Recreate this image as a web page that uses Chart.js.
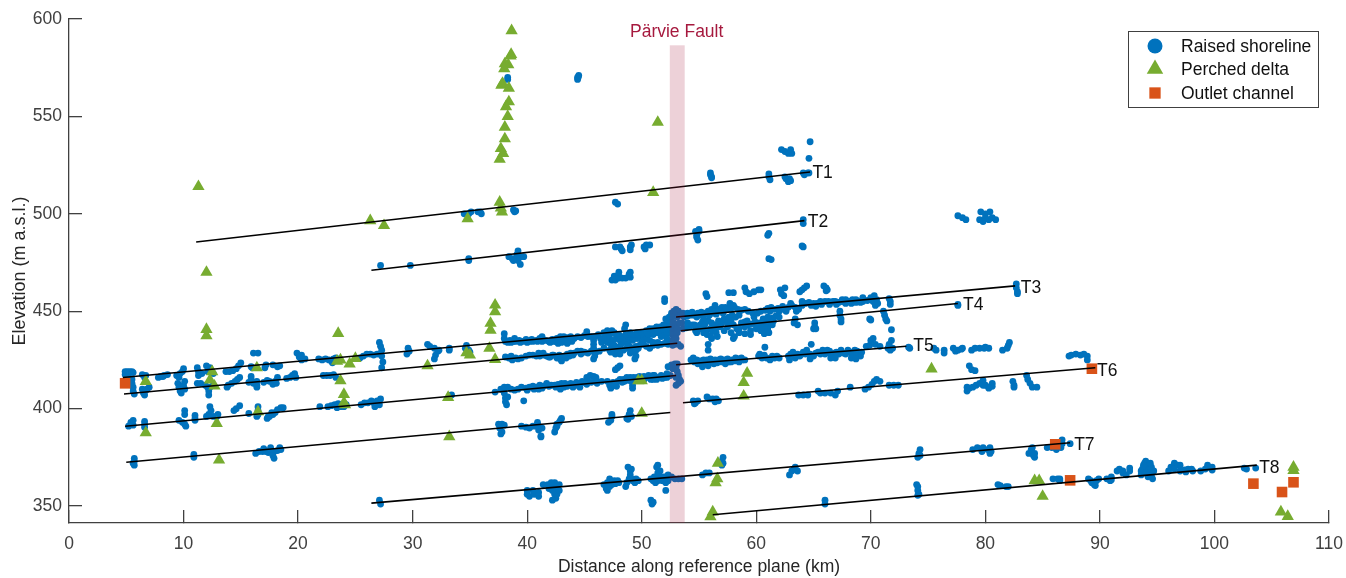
<!DOCTYPE html>
<html>
<head>
<meta charset="utf-8">
<title>Raised shorelines</title>
<script src="https://cdn.jsdelivr.net/npm/chart.js@4/dist/chart.umd.min.js"></script>
<style>
  html, body { margin: 0; background: #fff; }
  canvas { display: block; }
</style>
</head>
<body>
<canvas id="myChart" width="1346" height="578"></canvas>
<script>
const xTicks = [0, 10, 20, 30, 40, 50, 60, 70, 80, 90, 100, 110];
const yTicks = [350, 400, 450, 500, 550, 600];

// raised shorelines, [km, m a.s.l.]
const shoreHigh = [[38.3,570],[38.3,569],[44.4,569],[44.45,570],[44.5,571],[44.4,570],[34.5,500],[34.9,500],[35.1,501],[35.7,501],[36,500],[35.9,501],[38.8,502],[38.9,501],[39,501.5],[47.7,506],[47.9,505],
  [56,520],[56,521],[56.1,518.5],[56.1,519],[61.1,520.5],[61.1,519],[61.2,517.5],[62.6,518],[62.9,518],[62.8,516.5],[63,517],[62.5,519],[64.1,521],[64.2,520],[64.5,521],[64.6,521],
  [62.2,533],[62.5,532],[62.8,531],[63.1,531],[63,533],[64.7,537],[64.6,528.5],
  [34.9,477],[34.9,476],[38.4,478],[38.7,477],[39,477],[39.1,479],[39.2,481],[39.4,478],[39.7,478],[39.2,476],[38.8,476],[39.4,474],[27.2,473.5],[29.8,473.5],
  [47.7,483],[48.1,483],[48.3,481],[48.2,482],[49,483],[49,481.5],[49.1,484],[50.2,483],[50.4,484],[50.7,484],[50.3,482],
  [54.7,491],[55,491],[55,492],[54.8,489],[54.9,486.5],[54.8,488],[61.1,490],[61,489],[64.1,497],[64.1,495],[64.1,483],[64,483.5],[61.1,477],[61.3,476.5],
  [47.4,466],[47.7,466],[48,467],[48.3,467],[48.6,467],[48.9,469],[47.6,468],[49,467.5],[48,468],[49,470],[48,470],
  [77.6,499],[78,498],[78.3,497],[79.5,497],[79.8,496],[80,500],[80.4,501],[80.6,498],[80.9,497],[80.3,497],[79.6,501],[80,498]];

const shoreBand3 = [[4.9,419],[5.1,419],[5.3,419],[5.5,419],[5.6,418.5],[4.9,417.5],[5.2,417.5],[5.5,415],[5.5,413],[5.6,411],[5.6,409],[5.7,407.5],[6.4,417.5],[6.7,417],[6.6,416],
  [7.8,416],[8,416.5],[8.3,417],[8.6,417.5],[8.2,416.5],[9.4,417],[9.6,416],[9.9,419],[10,420.5],[9.7,418],[11.2,421],[11.3,419],[11.3,417],[11.6,418],[12,422],[12.3,421],[12.1,419],[12.4,419.5],[12.6,418],
  [13.7,419],[14,419],[14.3,419.5],[14.6,420.5],[14.8,422],[15,423.5],[15.9,421.5],[16,421],[16.1,428.5],[16.5,428.5],[17.2,422.5],[17.1,421],[17.8,422.5],[18.2,421.5],[18.4,422],
  [19.9,428.5],[20.1,426.5],[20.3,425],[20.6,425.5],[20.3,427.5],[21.8,425.5],[22.1,425],[22.4,425.5],[22.7,425],[22.9,424.5],[23.1,425.5],[23.3,426],[23,423.5],
  [25.4,426],[25.7,427],[26,428],[26.3,428],[26.6,427.5],[26.9,428],[27.1,434],[27.2,432],[27.3,430],[27.3,427],[27.4,424],[27.3,421],
  [29.6,431],[29.7,429.5],[29.5,428],[31.3,433],[31.5,432],[31.9,431],[32.2,429.5],[32,427.5],[31.9,425.5],[32.3,430],[33.2,431],[33.2,430],[34.7,432.5],[34.6,431],[34.9,430],[35,429],
  [38,438.5],[38,436],[38.1,434.5],[38.3,434],[38.5,435],[38.8,434.5],[38.9,436],[39.3,435],[39.6,434.5],[39.9,435.5],[40.2,434.5],[40.5,434.5],[40.8,435],[41.1,436],[41.3,437],
  [42,434],[42.3,434.5],[42.6,436],[42.9,437],[43.2,437],[43.5,436.5],[43.7,435.5],[43.3,434.5],[43,434],[43.5,433.5],[42.7,433.5],[43.8,437],
  [45.2,439.5],[45.2,438],[45.3,437],[45.6,437],[45.9,437],[45.8,435],[45.8,433],[45.8,431],[46,429],[45.9,427],[45.8,425.5],
  [46.7,439],[47,440],[47.4,440],[47.6,439],[46.9,437],[47.2,436],[47.5,435],[47,434],[47.3,433],[47.5,431],[47.6,432.5],
  [48,438],[48.3,437],[48.6,438],[48.6,443],[48.5,441],[49,439],[49.3,438],[49.6,439],[50,439],[48.2,433],[48.5,434],[48.8,433],[49.2,435],[49.5,432],[49.7,431],[49.5,430],
  [50.4,440],[50.7,441],[51,441],[51.3,442],[51.6,442],[51.9,443],[51.9,441],[50.6,438],[51,438],[51.4,439],[51.7,437],[50.7,435],[51,434],[51.4,434],[52,456.5],[52,455],
  [52.4,447],[52.6,449],[52.8,450],[53,451],[53.2,450],[53.3,449],[52.5,446],[52.7,447],[52.9,448],[53.1,447],[52.5,444],[52.8,444],[53,443],[53.3,444],[52.5,441],[52.8,441],[53.1,441],[52.6,438.5],[52.9,438.5],[53.1,439],[52.8,436],[53,436],[52.9,433],[53.2,433],[53.4,432],[52.6,435],[52.7,432.5],
  [53.4,448],[53.7,447],[54,447.5],[54.3,448],[54.6,448],[54.9,449],[55.2,449.5],[55.5,449],[55.8,450],[56.1,451],[56.4,450],[56.7,451],[57,452],[57.3,452],[56.4,453],[57.1,449],[55.6,459],[55.7,457.5],[57.6,459.5],[58,459.5],
  [59,462],[59.1,460],[59.4,459],[59.8,460],[60.2,461],[60.4,461],[57.7,454],[58,453],[61,451.5],[61.3,452],[61.6,451],[62,450],[62.4,451],[62.8,452],[63.1,453],[63,454],[62.1,461],[62.2,459],[62.4,458],[62.5,462],
  [63.8,460],[64,461],[64.2,462],[64.4,463],[65.9,463],[66.1,462],[66.1,460.5],[66.2,461],[63.7,451],[64,453],[64.3,454],[64.6,454.5],[65,454],[65.3,454],[65.6,455],[66,455],[66.3,455],[66.7,455],[64,455],
  [66.9,455],[67.2,454.5],[67.5,455],[67.8,454],[68.1,455],[68.4,456],[68.7,456],[69,455],[69.3,457],[69.1,454.5],[70,457],[70.3,458],[70.5,456],[70.2,455],[70.4,453],[70.6,454],[71.6,456.5],[71.7,455],[71.7,453.5],
  [82.7,464],[82.7,462],[82.8,460],[82.8,459]];

const shoreBand3Extra = [[38.6,434],[39,434.5],[39.4,434],[40,434],[40.4,435.5],[40.9,434.5],[41.3,434.5],[41.6,435],[41.9,434.5],[42.2,435.5],[42.5,434.5],[42.8,435],[43.1,435.5],[43.4,435],[43.9,434.5],[44.1,436],[44.4,437],[44.7,436.5],[45,437.5],
  [46.2,438],[46.4,436],[46.5,434],[46.7,436],[46.9,435],[47.2,438],[47.8,437],[48,435.5],[48.3,435],[48.6,436],[48.9,436],[49.3,436],[49.6,436],[49.9,437],[50.2,437],[50.2,435],[50.4,436],[50,434],[51.7,439.5],[51.9,439],[52.1,442],[52.2,444],[52.1,446],[52.3,445],[52.3,440],[52.1,438],[52.2,436],[51.6,440],[51.2,440],[50.9,439.5],[50.5,438.5],[52.2,434.5],
  [53.6,449],[54,449],[54.4,449.5],[54.8,447],[55.1,448],[55.4,447],[55.9,448],[56.2,449],[56.5,448.5],[56.9,450],[57.2,450.5],[57.5,451],[57.8,451.5],[58.1,452],[58.4,451],[58.7,450.5],[59,451],[59.3,450],[59.7,449],[60.1,449],[60.4,450],[60.8,450.5],[61.2,450],[61.9,451.5],[62.3,452.5],[62.6,450],[63.4,452],[63.5,450],[64.8,453],[65.2,452.5],[65.7,453.5],[66.4,453.5],[67,453.5],[67.5,456],[67.8,456],[68.3,454],[68.7,454.5],[69.3,455],[69.7,455.5],[70.1,456]];

const shoreBand4 = [[9.5,413],[9.6,411],[9.7,409],[10,412],[10.1,414],[10.1,410],[9.8,408],[11.2,413],[11.5,413],[11.9,412],[12.1,411],[12.2,409],[12.2,407],[12.3,411],[12.6,412],
  [13.8,411],[13.9,412],[14.2,413],[14.5,414],[14.7,415],[14.9,416],[15.7,413.5],[15.9,415],[15.9,416.5],[16.1,413],[16.4,414],[16.4,412],[16.4,411],[17,413.5],[17.3,414.5],[17.5,414],
  [17.8,412.5],[18,414],[18.2,416],[18.1,413],[19,415.5],[19.3,416],[19.5,417],[19.7,418],[19.8,416],[22.2,417],[22.5,417],[22.8,417],[23.1,417.5],[23.3,416],[6.4,410],[6.5,408],[6.6,407],[6.8,410],[7,411],[6.7,409.5],
  [38.1,426.5],[38.4,426],[38.7,425],[39,426],[39.2,425.5],[38.6,427],[39.9,427],[40.2,427.5],[40.5,427.5],[40.8,427],[41.1,427],[41.4,427.5],[41.7,427],[41,428.5],[41.4,428.5],
  [42,426.5],[42.3,427.5],[42.6,426],[42.9,425.5],[43.2,427],[43.5,428],[43.8,428.5],[44.1,428.5],[44.4,429.5],[44.7,429.5],[45,429],[43,424.5],[42.8,427.5],[47.6,430],[47.9,429.5],[48.1,428],[49,428.5],[49.5,427],[49.4,425.5],[49.6,431],[49.2,429.5],
  [53.5,444],[54,444],[54.4,443],[54.8,442],[55.1,443],[55.3,441],[55.5,443],[55.8,445],[56.1,444],[56.4,443],[56.7,445],[55.4,439],[55.7,438],[56,437.5],[56.2,440],[56.5,439],[56.6,437],[54.7,440],[54.8,439],[56.1,436],
  [57.6,447],[57.9,448],[58.2,447],[58.5,448],[57.8,445],[58,443],[58.3,441],[57.8,439],[58,436],[58.1,437],[58.5,441],[59,442],[59.5,440],[60,443],[60.5,442],[60.9,443],[61.2,444],[61.5,445],[61.4,443],[60,441],[60.8,441],[61.1,439],[61,441],[59.2,445],[59.8,447],[60.6,446],[61,447],
  [63.4,446],[63.3,444],[63.6,443],[65.1,444],[65.1,442],[65,441],[65.2,441],[67.3,450],[67.3,448],[67.4,446],[67.4,444.5],[69.9,446],[70,445.5],[71.1,450],[71.2,448],[71.3,446],[71.4,445],[71.8,440.5],[77.6,453.5],[77.6,453]];

const shoreBand4Extra = [[39.5,426],[41.9,426.5],[42.2,427.5],[43.4,426],[43.7,427],[44,427.5],[44.7,428],[45.3,428.5],[45.6,429.5],[46.3,429.5],[46.7,431],[47.2,430],[47.3,429],[48.4,430],[48.7,431],[49,431.5],[50.4,432],[50.7,431],[51,432.5],[51.4,432.5],[51.7,433],[52,433.5],[52.3,433],[49.8,432.5],[50.1,433],[47.9,431.5],[47.7,428],
  [53.6,441],[53.9,441.5],[54.2,442],[54.6,443],[55,441],[55.3,444.5],[55.6,440],[56,441],[56.4,441],[56.8,442],[57,444],[57.2,446],[57.5,444.5],[57.5,442],[57.2,440],[58.7,444],[59,444.5],[59.3,443],[59.6,443.5],[59.9,444.5],[60.3,444],[60.6,444],[61,445],[61.4,446.5],[61.7,447.5],[62,447],[59.5,438],[58.5,439],[59,438.5],[60.4,440],[60.7,438.5]];

const shoreBand5 = [[5.2,391],[5.4,393],[5.6,394],[5.6,391.5],[6.6,393.5],[6.6,392],[6.6,390.5],[9.6,394],[9.9,393],[10.1,392],[10.1,397],[10.1,399],[10.2,391],[11,396.5],[11,395],[11,394],
  [12,396],[12.2,397],[12.4,399],[12.3,401],[12.6,396],[12.9,396],[13,397],[14.4,399],[14.6,400],[14.9,401.5],[15.7,397.5],[16.5,401],[16.5,399],[16.5,397],[16.4,396],[17.3,395],[17.5,396],[17.8,397],[17.7,398],[17.4,396],
  [18,398],[18.2,399.5],[18.5,400.5],[18.7,400.5],[21.9,401],[22.6,401],[22.9,401.5],[23.2,402],[23.5,402.5],[23.7,401],[23.4,400.5],[24.2,402],[24,401],[25.5,402],[25.8,403],[26.1,403],[26.4,404],[26.6,403],[26.9,404],[27.1,402],[26.7,401],[27.2,405],
  [33.4,407],[37.2,408.5],[37.7,410],[38,411],[38.3,411],[38.6,410],[38.9,409.5],[39.2,410],[39.5,411],[38,408],[38.1,405.5],[38.1,403.5],[38.2,402],[38.3,406],[39.7,404],
  [39.9,410.5],[40.2,411],[40.5,411.5],[40.8,411],[41.1,412],[41.4,411.5],[41.7,413],[41,410],[40,409.5],[42.1,412],[42.4,412],[42.7,412.5],[43,413],[43.3,413],[43.2,411],[42.9,410],[43.5,411.5],[43.8,413],[44.1,412.5],[44.4,412],[44.7,413],[45,413.5],[45.3,414],
  [45.2,416],[45.5,417],[45.8,416.5],[46,415],[46.1,413],[46,416],[47.2,412],[47.3,410.5],[47.6,412],[47.9,414],[48.1,415],[47.8,411.5],[47.7,420],[48.1,422],[47.9,421],[48.4,415],[48.7,416],[49,416],[49.1,414],[49.2,412],[49.2,410.5],[49.3,416],[48.5,414],
  [49.6,416],[49.9,415],[50.2,415],[50.5,416],[50.8,415],[51.1,417],[51.4,416],[51.7,417],[52,416],[51,415],[52.3,421.5],[52.6,422.5],[52.9,423],[53.1,423],[52.7,420.5],[53,421],[53.1,419],[53.2,417],[53.3,415],[53.2,413],[53,412],[53.4,414],[53,416],
  [54.5,426],[54.6,424],[54.9,423],[55.2,423],[55.5,424],[55.8,422],[56.1,424],[56.4,425],[56.7,425],[57,424],[57.3,423],[57.6,424],[57.9,425],[58.2,426],[58.5,424],[58.8,425],[59,425],[55.3,421.5],[56.3,423],[55.8,433],[55.8,430],
  [60.2,427],[60.5,426],[60.9,426],[61.2,425],[61.6,426],[62,426],[60.75,431.5],[62.8,427],[62.9,425],[63.2,429],[63.4,426],[63.8,427],[64.1,429],[64.4,430],[64.7,428],[65,427],[64.7,425.5],[64.8,433],
  [65.4,429],[65.8,430],[66.2,430],[66.5,428],[66.9,426],[67,429],[67.4,430],[67.8,428],[68.2,429],[68.6,430],[68.9,428],[69.1,427],[69.2,429],[68.3,426],[68.7,425.5],[66.5,426],
  [69.6,432],[69.9,432.5],[70,435],[70.2,436],[70.4,433],[70.8,432],[71.6,433],[71.8,435],[71.9,431],[71.7,430],[71.5,431],[73.3,431.5],[73.4,431],[75.5,431],[75.7,430],[76.4,430],[76.4,428.5],
  [77.2,431],[77.6,430],[77.9,430.5],[78,431],[77.4,429.5],[78.8,430],[79.1,431],[79.5,431],[79.9,431],[80.3,431],[80,431.5],[81.5,430],[81.9,431],[82,432.5],[82.1,434]];

const shoreBand5Extra = [[37.9,409.5],[40.6,410],[41.3,410.5],[41.9,411.5],[42.5,411],[43.1,412],[43.7,412.5],[44.3,413.5],[44.8,414],[45.2,412.5],[45.6,413.5],[46.5,414],[47,414],[47.5,413.5],[48.3,413.5],[48.9,414.5],[49.4,414.5],[49.8,416.5],[50.2,416.5],[50.6,417],[51,417],[51.3,415],[51.8,415.5],[52.2,416],[52.5,417],[52.2,418],[44,411],[44.6,411],
  [54.8,425],[55.1,424.5],[55.4,425],[55.7,425],[56,425.5],[56.6,423.5],[56.9,425.5],[57.2,425],[57.5,425.5],[57.8,424],[58.1,424.5],[58.4,425.5],[58.7,426],[54.3,425],
  [65.6,428],[66,428],[66.4,429.5],[66.8,428.5],[67.2,428],[67.6,428.5],[68,430],[68.4,428],[68.8,429.5],[68.5,427],[65.2,428.5],[60.3,428],[60.7,427.5],[61.4,427],[61.8,427],[63,428],[63.6,428],[64,428],[64.3,428]];

const shoreBand6 = [[5.7,374.5],[5.7,373],[5.6,372],[5.7,371],[10.9,376.5],[10.9,375],[16.3,377],[16.6,378],[16.9,378],[17.2,378],[17.4,377.5],[17.6,379],[17.9,378],[18.2,378.5],[18.4,380],[18.5,379],[17.8,376],[17.9,374.5],[17.6,380],[17,379.5],
  [37.5,392],[37.8,392],[38,391.5],[37.6,390],[37.8,388],[37.7,387],[39.5,391],[39.9,390.5],[40.2,390],[40.5,391],[40.8,391],[40.9,393],[41,391],[41,389],[41.3,390],[41.2,385.5],[41.2,386],
  [42.4,388],[42.5,390],[42.6,392],[42.8,393],[42.9,394],[43,395],[42.6,391],[47.1,393],[47.3,394],[47.4,396],[47.4,397],[48.7,395],[48.9,397],[49,399],[48.8,394.5],[49.1,396],
  [54.5,404],[54.6,402.5],[54.7,403],[54.9,404],[55.7,406],[55.9,405],[56.2,405],[56.5,405],[56.7,404],[56.4,403.5],[63.7,407],[64.1,407],[64.5,407],[65.4,409],[65.6,408],[66,408],[66.5,408],[66.9,407],[67.1,409],[68.2,411],
  [69.5,410],[69.8,411],[70.1,412.5],[70.3,414],[70.5,415],[70.8,414],[71.6,412],[72,412],[72.4,412],[78.6,422],[78.8,420],[79.1,419.5],[78.4,409],[78.4,411],[78.6,410.5],[78.9,411],[79.2,412],[79.5,413],[79.8,414.5],[80,412],[80.3,411],[80.6,411.5],[80.6,413],[80.3,410.5],[79.8,412],
  [82.4,414],[82.5,412],[82.5,411],[83.6,417],[83.7,415],[83.9,413],[84.1,411],[84.5,411],[87.3,427],[87.5,427.5],[87.9,428],[88.3,427.5],[88.6,428],[88.9,427],[88.9,425]];

const shoreBand7 = [[27.1,353],[27.2,351],[40,358],[40,356],[40.2,355],[40.6,356],[41,355],[41,357],[40.5,358],[41.4,361],[41.8,361],[42.1,360],[42.3,358],[42.4,356],[42.5,354],[42.2,353],[42.6,356],[42.8,358],[42.6,360],[42.4,362],[42.1,362],[42.8,361],
  [46.7,361],[46.9,359],[47,358],[47.2,360],[47.3,362],[47.6,363],[47.9,363],[48,362],[47.2,364],[47,362],[48.6,360],[48.7,362],[48.9,364],[49,368],[48.8,370],[49.1,369],[49,366],[49.4,362],[49.7,363],[49.5,364],
  [50.8,364],[51,363],[51.2,362],[51.4,363],[51.6,365],[51.4,367],[51.3,370],[51.4,371],[51.6,368],[51.8,363],[52.1,362],[52.3,363],[52.1,365],[52.3,366],[52.1,358],[50.8,353],[50.9,351],[51,352],[52.6,365],[52.9,364],[53.2,364],[53.5,364],
  [55.3,366],[55.6,367],[55.9,367],[57,373],[57.1,372],[57,371],[57.1,375],[62.9,366],[63.1,368],[63.3,369],[63.4,370],[63.6,368],[74.3,379],[74.2,377],[74.1,375],[74.3,376],
  [78.9,379],[79.3,380],[79.8,380],[80.2,379],[80.5,378],[80.4,380],[79.7,378],[80.4,377],[83.8,377],[84,379],[84.1,380],[84.3,377],[84.3,375],[84.2,376],[85.4,380],[85.8,380],[86.2,379],[86.6,380],[86.7,382],[86.7,384],[86.2,381],[87.4,382],
  [41.9,359],[42.2,358],[47.4,361],[47.7,361.5],[47.1,361],[49.2,363],[49.1,364],[51.5,364],[51.7,364],[51.9,365],[52,364],[51.2,364.5],[51.1,365],[52.4,364.5]];

const shoreBand8 = [[66,353],[66,351],[74,361],[74.1,360],[74.1,358],[74.2,356],[74.1,355.5],[81.1,361],[81.3,360.5],[81.8,360],[82,360],[85.9,364],[86.3,364],[86.5,364],[86.5,363],
  [89,364],[89.3,362],[89.5,361],[89.7,363],[89.9,364],[89.6,360.5],[89.2,363],[90.6,364],[90.9,363],[91,363.5],[91,365],[91.5,368],[91.7,369],[92,367],[92.3,366],[92.6,368],[92.6,369.5],[92,368],
  [93.6,368],[93.6,366],[93.9,372],[94,373],[94.2,369],[94.2,367],[94.5,366],[94.7,368],[94.5,370],[94.3,371],[94.6,364],[94.2,365],[94,370],[93.7,369],[94.5,367.5],[94.1,368],[94.3,369],[94,367],[94.4,372],[93.8,371],[94.5,368.8],
  [96,368],[96.2,370],[96.5,372],[96.8,371],[97,371],[96.5,369],[97,368],[97.4,368.5],[97.7,369],[98,369],[98.1,368],[97.5,367.5],[98.8,368],[99.2,369],[99.4,371],[99.8,370],[99.8,368.5],[99.5,370],[102.6,369.5],[102.8,369],[103.6,369.5]];

const perchedDelta = [[38.64,594],[38.6,581.8],[38.55,581],[38.35,576.5],[38.05,577],[38,574.5],[37.85,567],[37.75,566],[38.4,564.5],[38.4,557.5],[38.15,555],[38.3,550],[38.05,544.5],[38.05,538.5],[37.7,533.5],[37.9,531],[37.6,528],[51.4,547],[37.6,506],[37.7,503],[37.8,501],[34.8,497.5],[51,511],
  [11.3,514],[12,470],[27.5,494],[26.3,496.5],[6.7,414],[6.7,387.6],[12,440.7],[12,437.4],[12.5,419],[12.3,414.7],[12.7,411.6],[12.9,392.4],[16.4,421],[16.5,398.4],[13.1,373.6],[23.5,438.6],[23.4,424.4],[23.7,425],[24.5,423],[25,425.8],[23.7,414.3],[24,407.3],[24,403],[24.1,402],
  [31.3,422],[33.1,405.8],[33.2,385.6],[34.7,428.7],[35,427.5],[37.2,453.2],[37.2,449.7],[36.8,443.8],[36.8,440.3],[36.7,431],[37.2,425.3],[49.7,414.3],[50,414.3],[50,397.6],[59.2,418.2],[58.9,413.4],[58.9,406.5],[75.3,420.4],
  [56.65,372],[56.6,364],[56.45,362],[56.2,347],[56,344.5],[84.3,363],[84.7,363],[85,355],[106.9,370],[106.9,368.3],[105.8,347],[106.4,344.7]];

const outletChannel = [[4.9,413],[86.1,381.7],[87.4,363.2],[103.4,361.5],[105.9,357.2],[106.9,362.2],[89.3,420.5]];

// fitted shoreline traces, split at the fault where there is an offset
const traces = [
  [[11.1,485.5],[64.7,521.5]],
  [[26.4,471],[64.2,496.5]],
  [[4.7,416],[52.6,442]],
  [[53,447],[82.6,463]],
  [[4.8,407.5],[53.1,433.6]],
  [[53.4,440],[77.6,454]],
  [[4.9,391],[53,417]],
  [[53,422.5],[73.1,432]],
  [[5,372.5],[52.5,398]],
  [[53.6,403],[89.6,421]],
  [[26.4,351.5],[87.4,382.5]],
  [[56.2,345.5],[103.7,371]]
];
const traceNames = ['T1', 'T2', 'T3', 'T4', 'T5', 'T6', 'T7', 'T8'];
const traceLabelX = [64.9, 64.5, 83.1, 78.05, 73.7, 89.75, 87.75, 103.9];
const traceLabelY = [521, 495.5, 462, 453, 432, 419, 381, 369.5];

const faultFrom = 52.45, faultTo = 53.75, faultTop = 586.5;

const BLUE = '#0072BD', GREEN = '#77AC30', ORANGE = '#D95319', AXIS = '#404040';
const FONT = '"Liberation Sans", Arial, sans-serif';

const toPoints = rows => rows.map(r => ({ x: r[0], y: r[1] }));
const noScalePadding = s => { s.paddingLeft = 0; s.paddingRight = 0; s.paddingTop = 0; s.paddingBottom = 0; };

const overlay = {
  id: 'overlay',
  afterDatasetsDraw(chart) {
    const { ctx, scales: { x, y } } = chart;
    ctx.save();

    // fault band sits on top of the dots, they show through darker
    ctx.fillStyle = 'rgba(166, 25, 62, 0.2)';
    ctx.fillRect(x.getPixelForValue(faultFrom), y.getPixelForValue(faultTop),
      x.getPixelForValue(faultTo) - x.getPixelForValue(faultFrom),
      y.getPixelForValue(y.min) - y.getPixelForValue(faultTop));

    ctx.font = '17.5px ' + FONT;
    ctx.textBaseline = 'middle';
    ctx.fillStyle = '#A6193E';
    ctx.textAlign = 'center';
    ctx.fillText('Pärvie Fault', x.getPixelForValue(53.05), y.getPixelForValue(593));

    ctx.fillStyle = '#111';
    ctx.textAlign = 'left';
    traceNames.forEach((name, i) => {
      ctx.fillText(name, x.getPixelForValue(traceLabelX[i]), y.getPixelForValue(traceLabelY[i]));
    });

    // legend
    ctx.fillStyle = '#fff';
    ctx.strokeStyle = AXIS;
    ctx.lineWidth = 1;
    ctx.fillRect(1128.5, 31.5, 190, 76);
    ctx.strokeRect(1128.5, 31.5, 190, 76);
    const items = [
      ['Raised shoreline', 'circle', 7.5, BLUE, 46],
      ['Perched delta', 'triangle', 9.5, GREEN, 69],
      ['Outlet channel', 'rect', 8, ORANGE, 93]
    ];
    items.forEach(it => {
      ctx.fillStyle = it[3];
      Chart.helpers.drawPoint(ctx, { pointStyle: it[1], radius: it[2], rotation: 0, borderWidth: 0 }, 1155, it[4]);
      ctx.fillStyle = '#111';
      ctx.fillText(it[0], 1181, it[4] + 1);
    });
    ctx.restore();
  }
};

const shorelineSets = [shoreHigh, shoreBand3, shoreBand3Extra, shoreBand4, shoreBand4Extra, shoreBand5, shoreBand5Extra, shoreBand6, shoreBand7, shoreBand8].map(rows => ({
  label: 'Raised shoreline',
  data: toPoints(rows),
  backgroundColor: BLUE,
  borderWidth: 0,
  pointRadius: 3.4,
  order: 4
}));

const traceSets = traces.map(t => ({
  label: 'trace',
  data: toPoints(t),
  showLine: true,
  borderColor: '#000',
  borderWidth: 1.6,
  pointRadius: 0,
  order: 1
}));

const myChart = new Chart(document.getElementById('myChart').getContext('2d'), {
  type: 'scatter',
  data: {
    datasets: [
      ...traceSets,
      {
        label: 'Outlet channel',
        data: toPoints(outletChannel),
        pointStyle: 'rect',
        backgroundColor: ORANGE,
        borderWidth: 0,
        pointRadius: 7.5,
        order: 2
      },
      {
        label: 'Perched delta',
        data: toPoints(perchedDelta),
        pointStyle: 'triangle',
        backgroundColor: GREEN,
        borderWidth: 0,
        pointRadius: 7.1,
        order: 3
      },
      ...shorelineSets
    ]
  },
  options: {
    responsive: false,
    animation: false,
    layout: { padding: { top: 19, right: 17 } },
    plugins: { legend: { display: false }, tooltip: { enabled: false } },
    scales: {
      x: {
        type: 'linear',
        min: 0,
        max: 110,
        afterBuildTicks: s => { s.ticks = xTicks.map(v => ({ value: v })); },
        afterFit: s => { s.height = 55; noScalePadding(s); },
        border: { color: AXIS, width: 1.3 },
        grid: { drawOnChartArea: false, drawTicks: true, tickLength: -13, color: AXIS, lineWidth: 1.3 },
        ticks: { color: AXIS, padding: 24, maxRotation: 0, autoSkip: false, font: { family: FONT, size: 17.5 } },
        title: { display: true, text: 'Distance along reference plane (km)', color: '#262626', padding: { top: 0, bottom: 0 }, font: { family: FONT, size: 17.5 } }
      },
      y: {
        type: 'linear',
        min: 341.3,
        max: 600,
        afterBuildTicks: s => { s.ticks = yTicks.map(v => ({ value: v })); },
        afterFit: s => { s.width = 69; noScalePadding(s); },
        border: { color: AXIS, width: 1.3 },
        grid: { drawOnChartArea: false, drawTicks: true, tickLength: -13, color: AXIS, lineWidth: 1.3 },
        ticks: { color: AXIS, padding: 20, autoSkip: false, font: { family: FONT, size: 17.5 } },
        title: { display: true, text: 'Elevation (m a.s.l.)', color: '#262626', padding: { top: 9, bottom: 0 }, font: { family: FONT, size: 18 } }
      }
    }
  },
  plugins: [overlay]
});
</script>
</body>
</html>
